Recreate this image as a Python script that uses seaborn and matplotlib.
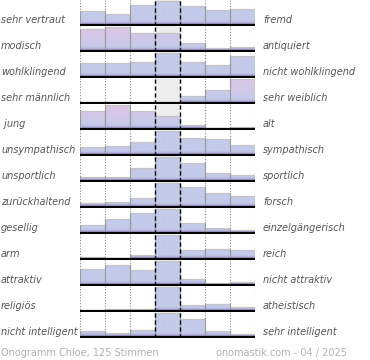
import numpy as np
import pandas as pd
import matplotlib
matplotlib.use("Agg")
import matplotlib.pyplot as plt
import seaborn as sns

left_labels = ["sehr vertraut", "modisch", "wohlklingend", "sehr männlich", " jung",
               "unsympathisch", "unsportlich", "zurückhaltend", "gesellig", "arm",
               "attraktiv", "religiös", "nicht intelligent"]
right_labels = ["fremd", "antiquiert", "nicht wohlklingend", "sehr weiblich", "alt",
                "sympathisch", "sportlich", "forsch", "einzelgängerisch", "reich",
                "nicht attraktiv", "atheistisch", "sehr intelligent"]

# relative share per answer step (1 = most frequent answer of the row)
values = [
    [0.58, 0.49, 0.86, 1.00, 0.82, 0.64, 0.68],
    [0.92, 1.00, 0.77, 0.77, 0.36, 0.14, 0.19],
    [0.60, 0.60, 0.64, 1.00, 0.64, 0.50, 0.89],
    [0.00, 0.00, 0.00, 0.00, 0.32, 0.56, 1.00],
    [0.77, 1.00, 0.77, 0.56, 0.18, 0.07, 0.11],
    [0.35, 0.39, 0.55, 1.00, 0.72, 0.68, 0.41],
    [0.20, 0.16, 0.54, 1.00, 0.75, 0.33, 0.27],
    [0.17, 0.23, 0.40, 1.00, 0.86, 0.58, 0.48],
    [0.34, 0.60, 0.86, 1.00, 0.43, 0.24, 0.14],
    [0.08, 0.04, 0.19, 1.00, 0.39, 0.44, 0.39],
    [0.66, 0.86, 0.62, 1.00, 0.27, 0.11, 0.15],
    [0.00, 0.08, 0.08, 1.00, 0.25, 0.29, 0.19],
    [0.26, 0.19, 0.32, 1.00, 0.75, 0.27, 0.14],
]
# pink tint of the bar tops (share of female votes, 0..1)
tints = [
    [0, 0, 0, 0, 0, 0, 0],
    [0.9, 1.0, 0.6, 0.6, 0, 0, 0],
    [0, 0, 0, 0, 0, 0, 0],
    [0, 0, 0, 0, 0, 0.2, 0.9],
    [0.7, 1.0, 0.6, 0.4, 0, 0, 0],
    [0, 0, 0, 0, 0, 0, 0],
    [0, 0, 0, 0, 0, 0, 0],
    [0, 0, 0, 0, 0, 0, 0],
    [0, 0, 0, 0, 0, 0, 0],
    [0, 0, 0, 0, 0, 0, 0],
    [0, 0, 0, 0, 0, 0, 0],
    [0, 0, 0, 0, 0, 0, 0],
    [0, 0, 0, 0, 0, 0, 0],
]
steps = [1, 2, 3, 4, 5, 6, 7]
footer_left = "Onogramm Chloe, 125 Stimmen"
footer_right = "onomastik.com - 04 / 2025"

sns.set_theme(style="white")
plt.rcParams["font.family"] = ["DejaVu Sans"]

W, H = 370, 360
fig = plt.figure(figsize=(W / 100, H / 100), dpi=100)
fig.patch.set_facecolor("white")

blue = np.array([195, 202, 234]) / 255
pink = np.array([222, 198, 230]) / 255
band = np.array([146, 132, 190]) / 255

x_left, x_right = 80.0, 254.5
row_px = 26.0
first_base = 25.3
unit_px = 24.0

for r in range(len(values)):
    base = first_base + row_px * r
    top_px = base - 25
    bot_px = base + 1
    ax = fig.add_axes([x_left / W, (H - bot_px) / H, (x_right - x_left) / W, (bot_px - top_px) / H])
    ax.patch.set_alpha(0)
    df = pd.DataFrame({"step": steps, "value": values[r]})
    sns.barplot(data=df, x="step", y="value", ax=ax, width=1.0, color=blue,
                saturation=1, errorbar=None, linewidth=0, zorder=2)
    patches = list(ax.patches)
    ax.set_xlim(-0.5, 6.5)
    ylim = (-1 / unit_px, 25 / unit_px)
    ax.set_ylim(*ylim)
    ax.axvspan(2.5, 3.5, color="#ededed", zorder=0, lw=0)
    for xv in [-0.5, 0.5, 1.5, 4.5, 5.5, 6.5]:
        ax.axvline(xv, color="#8a8a8a", ls=(0, (1, 1.5)), lw=0.8, zorder=1)
    for i, p in enumerate(patches):
        h = p.get_height()
        x0 = p.get_x()
        x1 = x0 + p.get_width()
        if h <= 0.005:
            continue
        n = 60
        ys = np.linspace(h, 0, n)
        t = tints[r][i]
        topc = blue * (1 - t) + pink * t
        cols = []
        for y in ys:
            frac = y / h
            c = blue * (1 - frac) + topc * frac
            bh = 4.0 / unit_px
            if y < bh:
                k = (1 - y / bh) ** 1.3
                c = c * (1 - k) + band * k
            cols.append(c)
        img = np.array(cols).reshape(n, 1, 3)
        p.set_facecolor("none")
        im = ax.imshow(img, extent=(x0, x1, 0, h), aspect="auto", zorder=2,
                       interpolation="bilinear")
        im.set_clip_path(p)
        ax.plot([x0, x1], [h, h], color="#c4c4c4", lw=0.9, zorder=3, solid_capstyle="butt")
        ax.plot([x0, x0], [0, h], color="#9a9a9a", lw=0.8, zorder=3)
        ax.plot([x1, x1], [0, h], color="#9a9a9a", lw=0.8, zorder=3)
    ax.set_xlim(-0.5, 6.5)
    ax.set_ylim(*ylim)
    for xv in [2.5, 3.5]:
        ax.axvline(xv, color="black", ls=(0, (3, 2)), lw=1.0, zorder=5)
    ax.axhline(0, color="black", lw=1.6, zorder=6)
    ax.axhline(-0.8 / unit_px, color="#b0b0b0", lw=0.6, zorder=5)
    ax.set_axis_off()

    ty = (H - (base - 5.5)) / H
    fig.text(1 / W, ty, left_labels[r], ha="left", va="center", fontsize=7,
             style="italic", color="#555555")
    fig.text(263 / W, ty, right_labels[r], ha="left", va="center", fontsize=7,
             style="italic", color="#555555")

fig.text(1 / W, (H - 353) / H, footer_left, ha="left", va="center", fontsize=7, color="#b0b0b0")
fig.text(347 / W, (H - 353) / H, footer_right, ha="right", va="center", fontsize=7, color="#b0b0b0")

fig.savefig("out.png", dpi=100, facecolor="white")
